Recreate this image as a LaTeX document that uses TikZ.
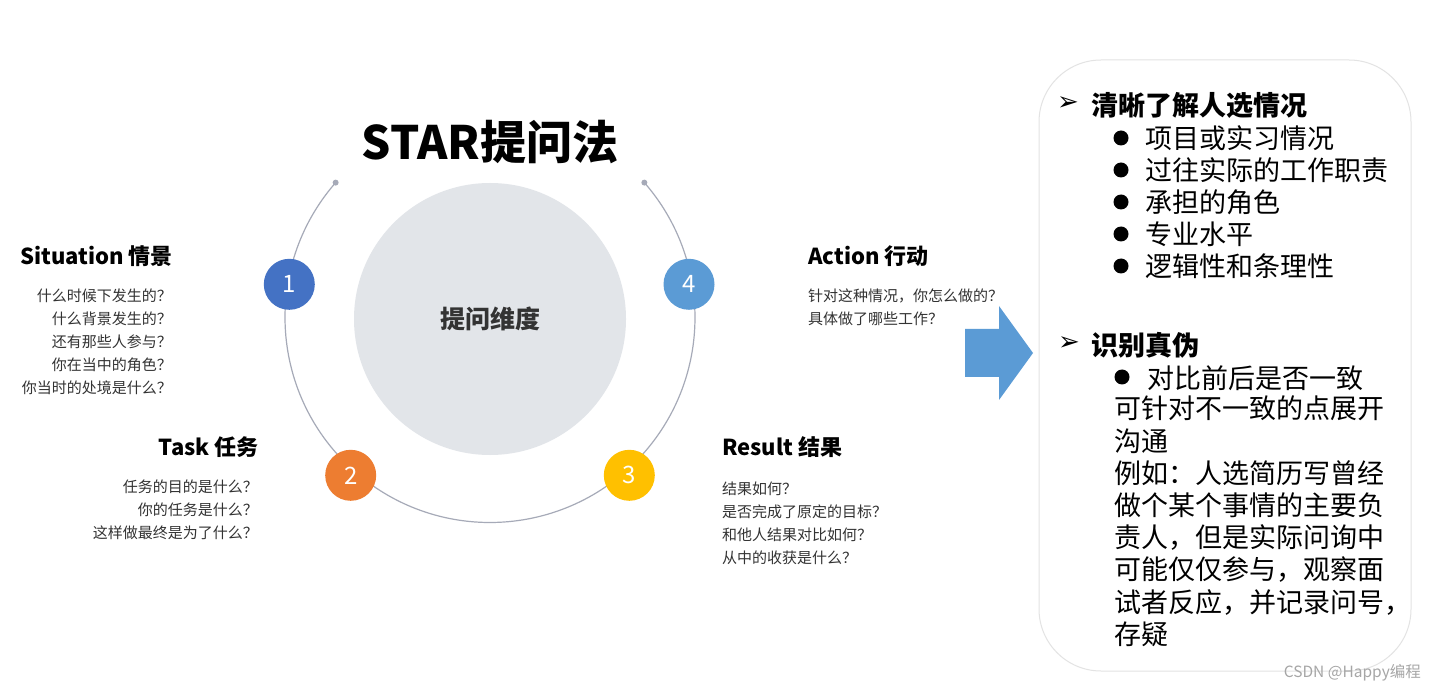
\documentclass[tikz,border=0pt]{standalone}
\usepackage{fontspec}
\setmainfont{Noto Sans CJK SC}
\newfontfamily\dejavu{DejaVu Sans}
\definecolor{ringgray}{HTML}{A6AAB8}
\definecolor{biggray}{HTML}{E2E5E9}
\definecolor{cone}{HTML}{4472C4}
\definecolor{ctwo}{HTML}{ED7D31}
\definecolor{cthree}{HTML}{FFC000}
\definecolor{cfour}{HTML}{5B9BD5}
\definecolor{boxline}{HTML}{E3E3E3}
\definecolor{qtext}{HTML}{333333}
\begin{document}
\begin{tikzpicture}[x=1pt,y=1pt,
  num/.style={circle,minimum size=51pt,inner sep=0pt,text=white,font=\fontsize{24}{24}\selectfont},
  head/.style={inner sep=0pt,font=\fontsize{22}{24}\selectfont\bfseries,text=black},
  ques/.style={inner sep=0pt,font=\fontsize{15}{23}\selectfont,text=qtext},
  rb/.style={inner sep=0pt,anchor=west,font=\fontsize{27}{32.2}\selectfont,text=black},
  rbh/.style={rb,font=\fontsize{27}{32.2}\selectfont\bfseries},
  sym/.style={inner sep=0pt,font=\dejavu\fontsize{26}{26}\selectfont,text=black},
  dot/.style={circle,fill=black,minimum size=15pt,inner sep=0pt}
]
\useasboundingbox (0,0) rectangle (1435,-692);
\fill[white] (0,0) rectangle (1435,-692);

% title
\node[inner sep=0pt,font=\fontsize{46}{46}\selectfont\bfseries] (title) at (490,-142) {STAR提问法};

% ring
\coordinate (rc) at (490,-317.5);
\draw[ringgray,line width=1.2pt] (rc) ++(138.85:205) coordinate (rs)
  arc[start angle=138.85,end angle=401.15,radius=205] coordinate (re);
\fill[ringgray] (rs) circle (3pt);
\fill[ringgray] (re) circle (3pt);

% centre circle
\node[circle,fill=biggray,minimum size=272pt,inner sep=0pt,text=qtext,
  font=\fontsize{25}{25}\selectfont\bfseries] (core) at (490,-319) {提问维度};

% numbered circles
\node[num,fill=cone] (n1) at (289.3,-284.3) {1};
\node[num,fill=ctwo] (n2) at (350.7,-475.3) {2};
\node[num,fill=cthree] (n3) at (629.3,-475.3) {3};
\node[num,fill=cfour] (n4) at (689,-284.3) {4};

% Situation
\node[head,anchor=west] (sh) at (20,-256) {Situation 情景};
\node[ques,anchor=north east,align=right] (sq) at (172,-289) {什么时候下发生的？\\什么背景发生的？\\还有那些人参与？\\你在当中的角色？\\你当时的处境是什么？};

% Task
\node[head,anchor=east] (th) at (259,-447) {Task 任务};
\node[ques,anchor=north east,align=right] (tq) at (258,-480) {任务的目的是什么？\\你的任务是什么？\\这样做最终是为了什么？};

% Result
\node[head,anchor=west] (rh) at (722,-447) {Result 结果};
\node[ques,anchor=north west,align=left] (rq) at (722,-482) {结果如何？\\是否完成了原定的目标？\\和他人结果对比如何？\\从中的收获是什么？};

% Action
\node[head,anchor=west] (ah) at (808,-256) {Action 行动};
\node[ques,anchor=north west,align=left] (aq) at (808,-289) {针对这种情况，你怎么做的？\\具体做了哪些工作？};

% arrow
\fill[cfour] (965,-329) -- (999,-329) -- (999,-306) -- (1033,-353) -- (999,-400) -- (999,-377) -- (965,-377) -- cycle;

% right box
\draw[boxline,line width=1pt,rounded corners=62pt] (1039,-60) rectangle (1411,-671);

\node[sym] (a1) at (1068,-104) {➢};
\node[rbh] (h1) at (1091,-105) {清晰了解人选情况};
\node[dot] (d1) at (1121,-138) {};
\node[rb] (b1) at (1145,-138) {项目或实习情况};
\node[dot] (d2) at (1121,-170) {};
\node[rb] (b2) at (1145,-170) {过往实际的工作职责};
\node[dot] (d3) at (1121,-202) {};
\node[rb] (b3) at (1145,-202) {承担的角色};
\node[dot] (d4) at (1121,-234) {};
\node[rb] (b4) at (1145,-234) {专业水平};
\node[dot] (d5) at (1121,-266) {};
\node[rb] (b5) at (1145,-266) {逻辑性和条理性};

\node[sym] (a2) at (1069,-344) {➢};
\node[rbh] (h2) at (1091,-345) {识别真伪};
\node[dot] (d6) at (1122,-377) {};
\node[rb] (b6) at (1147,-378) {对比前后是否一致};
\node[rb,anchor=north west,align=left] (b7) at (1114,-396) {可针对不一致的点展开\\沟通\\例如：人选简历写曾经\\做个某个事情的主要负\\责人，但是实际问询中\\可能仅仅参与，观察面\\试者反应，并记录问号，\\存疑};

% watermark
\node[inner sep=0pt,anchor=east,text=gray!70,font=\fontsize{15.5}{16}\selectfont] (wm) at (1421,-673) {CSDN @Happy编程};
\end{tikzpicture}
\end{document}
